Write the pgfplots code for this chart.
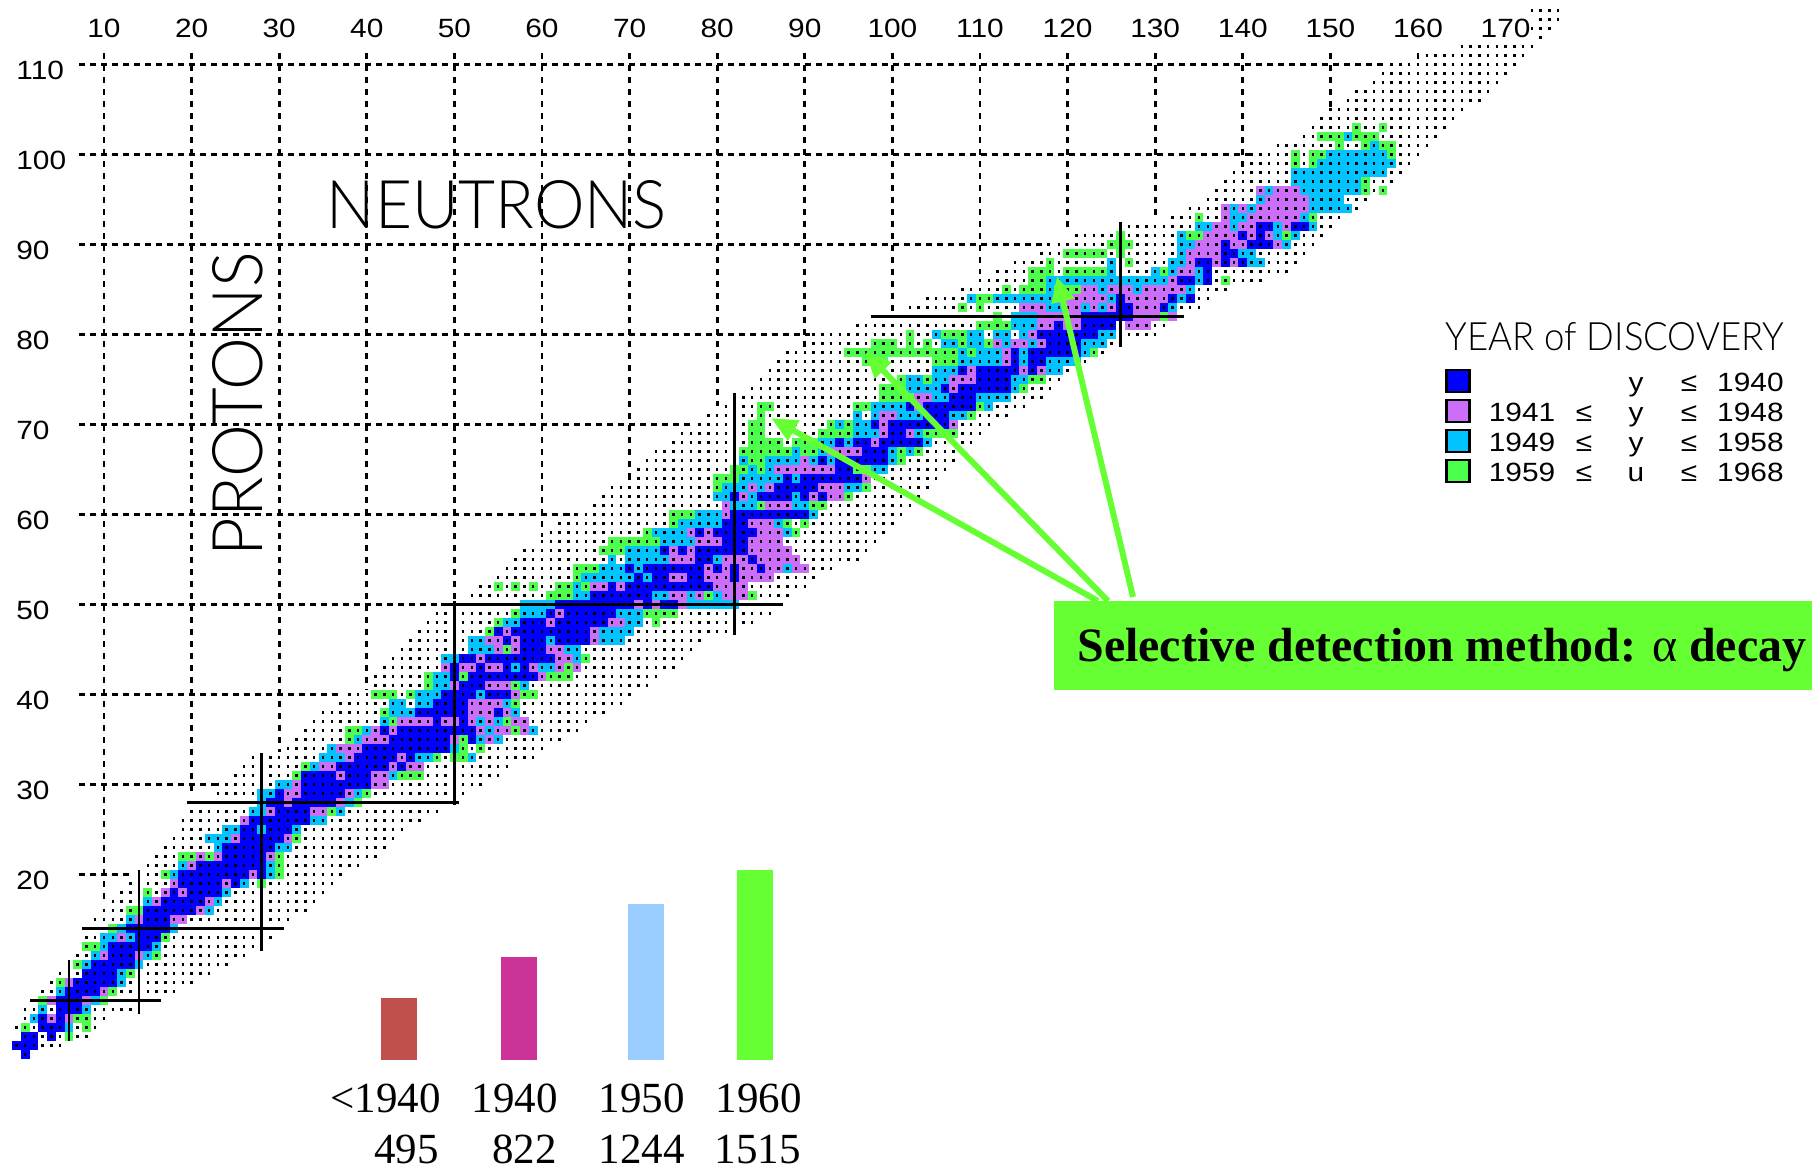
\documentclass[border=0pt]{standalone}
\usepackage{fontspec}
\usepackage{graphicx}
\usepackage{pgfplots}
\usepackage{pgfplotstable}
\pgfplotsset{compat=1.18}
\usetikzlibrary{arrows.meta}
\setmainfont{Liberation Serif}
\newfontfamily\lsans[FakeStretch=1.13]{Liberation Sans}
\newfontfamily\lthin{Lato Light}
\definecolor{cB}{HTML}{0000FF}
\definecolor{cP}{HTML}{CC6EFA}
\definecolor{cC}{HTML}{00C3FF}
\definecolor{cG}{HTML}{4DFF4D}
\definecolor{box}{HTML}{66FF33}
\definecolor{b1}{HTML}{C0504D}
\definecolor{b2}{HTML}{CC3399}
\definecolor{b3}{HTML}{99CCFF}
\pgfplotstableread{
z a b
0 1 1
1 0 2
2 1 2
2 4 4
3 3 5
4 3 3
4 5 5
5 5 7
6 5 7
7 6 9
8 7 11
9 8 11
10 9 13
11 11 13
12 11 15
13 14 16
14 13 17
15 15 17
16 15 20
17 17 21
18 18 18
18 20 23
19 19 23
19 25 25
20 19 26
20 28 28
21 21 28
22 24 28
23 24 29
24 26 30
25 26 27
25 29 31
26 27 33
27 30 33
28 29 30
28 32 36
29 30 30
29 33 37
30 33 40
31 33 36
31 38 40
32 37 42
32 44 44
33 39 43
33 45 45
34 40 49
35 43 49
35 52 52
36 42 42
36 44 52
37 48 48
37 51 51
38 46 51
38 55 55
39 48 51
40 49 52
40 54 56
41 51 53
42 50 50
42 52 59
43 50 50
43 53 53
43 56 56
43 58 58
44 51 52
44 54 61
45 58 60
46 56 56
46 58 60
46 62 65
47 55 55
47 57 65
48 58 60
48 62 67
49 61 61
49 63 68
50 62 70
50 72 72
50 74 75
51 66 72
52 68 68
52 70 79
53 71 71
53 73 74
53 77 78
53 82 82
54 70 70
54 72 78
54 80 80
54 82 82
54 85 85
55 78 79
55 84 84
56 74 74
56 76 76
56 78 83
57 81 83
58 78 78
58 80 84
59 81 83
60 82 90
62 82 82
62 85 88
62 90 90
62 92 92
63 87 91
64 88 88
64 90 96
65 94 95
66 92 92
66 94 99
67 97 99
68 94 94
68 96 97
68 99 103
69 100 101
70 98 98
70 100 106
71 104 106
72 102 102
72 104 109
73 107 109
74 106 106
74 108 113
75 110 113
76 108 108
76 110 114
76 116 116
77 114 114
77 116 117
78 114 114
78 116 121
79 118 121
80 117 123
81 119 119
81 122 125
82 122 127
83 126 127
83 131 131
84 126 126
84 132 132
84 134 134
86 133 134
86 136 136
87 136 136
88 135 136
88 138 138
88 140 140
89 138 139
90 138 138
90 141 143
91 140 140
91 142 142
92 142 143
92 146 147
}\tabB
\pgfplotstableread{
z a b
4 4 4
4 6 6
6 4 4
6 8 8
7 10 10
8 6 6
11 10 10
11 14 14
13 12 12
15 14 14
15 18 19
16 21 21
17 16 16
17 22 22
18 17 17
18 19 19
19 18 18
19 24 24
20 27 27
21 20 20
22 21 21
22 23 23
22 29 29
24 25 25
24 31 31
26 26 26
27 29 29
27 34 35
28 31 31
28 37 37
29 31 32
29 38 38
30 32 32
30 41 42
31 37 37
31 41 42
32 35 36
32 43 43
32 45 46
33 38 38
33 44 44
34 37 39
35 40 42
35 50 50
35 54 54
36 41 41
36 43 43
36 53 53
36 55 56
36 58 58
37 44 47
37 49 50
37 52 52
37 54 54
37 57 58
38 52 54
38 56 56
39 52 55
40 57 57
41 50 50
41 54 56
42 60 60
43 49 49
43 51 52
43 54 55
43 59 59
43 62 62
43 64 64
44 53 53
44 62 63
45 55 55
45 57 57
45 61 62
46 54 55
46 57 57
46 66 66
47 56 56
47 66 66
48 61 61
48 68 69
49 62 62
50 71 71
50 73 73
50 76 76
51 75 76
51 78 78
51 81 83
52 66 67
52 69 69
52 80 83
53 75 76
53 79 81
53 83 86
54 79 79
54 81 81
54 83 84
54 86 87
54 89 90
55 75 77
55 81 83
55 85 89
56 75 75
56 77 77
56 84 88
57 78 80
57 84 87
58 77 77
58 79 79
58 85 87
59 84 86
60 81 81
61 81 81
61 86 88
62 83 83
62 91 91
62 93 94
63 84 84
63 86 86
63 92 94
64 97 97
65 87 93
66 90 90
67 93 96
68 98 98
69 99 99
69 102 102
70 99 99
70 107 107
71 99 100
72 103 103
73 103 104
74 107 107
75 107 109
76 109 109
76 115 115
76 117 117
77 113 113
78 113 113
79 112 112
79 114 115
79 117 117
80 116 116
81 117 118
81 120 121
81 127 129
82 117 121
82 128 130
82 132 132
83 115 117
83 120 121
83 123 123
83 125 125
83 128 130
84 119 124
84 127 131
85 122 123
85 125 127
85 129 133
86 132 132
87 133 134
88 134 134
88 137 137
88 139 139
89 134 137
90 135 137
90 139 140
90 144 144
91 136 139
91 141 141
91 143 143
92 137 138
92 140 141
92 145 145
93 138 138
93 141 146
94 138 138
94 140 140
94 142 147
95 143 147
96 142 142
96 144 146
}\tabP
\pgfplotstableread{
z a b
3 6 6
4 2 2
5 3 3
5 8 8
6 9 9
7 5 5
8 12 12
9 12 12
10 8 8
10 14 14
11 9 9
11 15 15
12 10 10
12 16 16
13 10 11
13 13 13
14 12 12
14 18 18
15 13 13
16 22 22
17 15 15
17 23 23
18 24 24
19 26 26
20 18 18
20 29 29
21 19 19
21 29 29
23 23 23
23 30 31
24 22 24
25 24 25
25 28 28
25 32 32
26 34 35
27 27 28
27 37 37
28 28 28
28 38 38
29 28 29
29 39 39
30 30 31
31 43 43
32 34 34
33 35 37
33 46 47
33 52 52
34 36 36
34 50 50
35 39 39
35 53 53
35 55 55
36 40 40
36 54 54
36 59 59
37 42 42
37 53 53
37 55 55
38 43 45
38 57 57
39 43 44
39 46 47
39 56 56
40 46 48
40 53 53
41 48 49
41 58 58
42 48 49
43 57 57
43 60 61
44 49 50
44 64 64
45 52 54
45 63 64
46 52 53
46 61 61
46 67 69
47 67 70
48 56 57
48 70 71
49 58 60
49 69 71
50 58 61
50 77 82
51 64 65
51 73 74
51 77 77
51 80 80
52 64 64
53 65 70
53 72 72
54 67 69
54 71 71
54 88 88
55 68 68
55 70 74
55 80 80
56 70 73
57 74 77
58 73 76
58 88 88
59 76 80
59 87 87
60 78 80
60 91 91
61 82 84
61 89 90
62 80 81
62 84 84
62 89 89
63 81 83
63 85 85
63 95 96
64 83 87
64 89 89
65 84 84
65 86 86
65 98 99
66 83 83
66 86 89
66 91 91
66 93 93
66 100 100
67 89 89
67 92 92
67 100 100
67 102 102
68 92 93
68 95 95
68 104 104
69 96 98
69 103 103
70 94 94
70 96 97
71 96 96
71 98 98
71 101 103
71 107 108
72 98 101
72 111 111
73 105 106
73 110 113
74 102 105
74 114 114
75 102 103
75 105 106
75 114 115
76 105 107
76 118 119
77 108 112
77 115 115
77 118 121
78 108 108
78 110 112
78 115 115
78 122 122
79 106 107
79 109 110
79 113 113
79 116 116
79 122 124
80 105 105
80 109 110
80 112 113
80 115 115
80 124 125
81 114 116
82 114 116
83 118 119
83 122 122
83 124 124
83 132 132
84 109 109
84 112 118
84 125 125
84 133 133
85 118 118
85 124 124
85 128 128
85 134 134
86 118 131
86 135 135
87 125 125
87 130 130
87 132 132
87 135 135
88 125 125
88 132 133
88 141 142
89 133 133
89 140 141
90 133 134
90 145 145
91 133 133
91 144 144
91 146 146
92 135 136
92 139 139
92 144 144
92 148 148
93 139 140
93 147 147
94 139 139
94 141 141
94 148 152
95 142 142
95 148 151
96 143 143
96 147 153
97 146 153
98 146 156
99 149 157
100 150 156
101 155 155
102 152 152
}\tabC
\pgfplotstableread{
z a b
2 6 6
3 1 1
3 8 8
4 7 8
6 3 3
6 10 10
7 11 11
8 5 5
9 13 13
10 7 7
11 16 16
12 8 9
13 17 17
14 11 11
16 13 14
18 15 15
19 28 28
20 17 17
20 30 30
21 30 30
22 19 20
22 22 22
22 30 30
24 32 32
27 36 36
28 39 39
29 40 40
31 32 32
31 44 46
32 33 33
33 48 48
33 50 51
34 51 51
34 53 53
35 38 38
35 51 51
36 38 39
36 57 57
37 43 43
37 56 56
38 42 42
39 57 57
40 41 43
40 45 45
40 58 59
41 47 47
41 57 57
42 47 47
42 51 51
42 61 63
43 63 63
44 65 65
45 56 56
47 54 54
48 55 55
48 73 73
49 57 57
49 72 75
51 61 63
51 79 79
51 84 84
52 55 55
52 57 57
52 59 59
52 62 63
52 65 65
53 64 64
54 64 66
56 67 69
57 68 73
58 72 72
58 89 89
59 75 75
59 88 88
59 90 90
60 75 77
61 85 85
61 91 92
62 95 95
63 80 80
63 97 97
64 80 82
65 82 83
65 85 85
65 96 97
66 84 85
66 101 101
67 83 88
67 90 91
67 101 101
67 103 103
68 84 87
68 89 91
69 84 85
69 92 95
69 104 107
70 84 85
70 93 93
70 95 95
71 85 85
71 109 109
72 85 86
72 96 97
72 110 110
73 99 102
74 99 101
74 115 115
75 101 101
75 104 104
75 116 117
77 97 99
77 105 107
78 95 107
78 109 109
78 123 123
79 98 100
79 102 102
79 104 104
79 108 108
79 111 111
80 102 102
80 106 108
81 110 113
82 112 112
82 131 131
83 108 108
83 110 110
84 110 111
85 113 113
85 115 117
85 119 121
86 116 117
86 138 138
87 116 118
87 120 124
87 131 131
88 118 118
88 127 127
89 120 124
89 126 126
90 125 127
91 126 126
91 134 135
91 145 145
93 135 135
93 148 148
96 154 154
96 156 156
97 154 154
99 146 146
99 148 148
100 146 146
100 148 149
100 157 157
101 151 151
101 154 154
101 156 157
102 149 151
102 153 155
103 153 153
103 156 156
}\tabG
\pgfplotstableread{
z a b
0 1 1
1 0 5
2 1 8
3 0 9
4 1 10
5 1 13
7 3 18
8 4 20
9 5 22
10 7 24
11 7 26
12 8 27
13 8 29
15 9 31
16 10 33
17 11 34
18 12 35
19 13 36
20 15 37
21 15 39
22 16 41
23 17 42
24 18 43
25 19 44
26 19 46
27 20 48
29 23 51
30 23 53
31 25 55
32 26 56
33 27 59
34 31 60
35 32 62
36 33 64
37 34 65
38 35 67
39 37 69
40 38 70
41 41 72
42 41 73
43 42 75
44 43 76
45 44 77
46 45 78
47 46 81
48 47 84
49 48 86
51 52 88
52 53 90
53 55 91
54 56 93
55 57 96
56 58 97
57 60 98
58 61 99
59 62 100
60 63 101
61 66 102
62 67 103
63 68 104
64 70 105
65 71 106
66 72 107
67 73 108
68 75 109
69 76 110
70 78 111
71 79 113
72 81 115
73 83 117
74 84 118
75 85 119
76 86 120
77 87 122
78 88 124
79 91 125
80 91 130
81 96 131
83 102 135
84 104 136
85 108 138
86 110 142
87 112 145
88 114 146
89 117 147
90 119 148
91 121 149
92 127 150
93 132 151
94 134 153
95 136 154
96 137 156
97 138 157
98 139 158
99 140 159
100 141 160
101 144 161
102 147 162
103 148 163
104 149 164
105 150 165
106 152 167
107 153 168
108 155 169
109 156 170
110 157 171
111 160 172
112 165 173
113 174 174
114 173 175
115 174 176
116 173 176
}\tabD
\pgfplotstableread{
z a b
110 7.2 156
100 7.2 141
90 7.2 118
80 7.2 90.6
70 7.2 77
60 7.2 64
50 7.2 48.5
40 7.2 37.2
30 7.2 23
20 7.2 13.2
}\tabH
\pgfplotstableread{
n top bot
10 111.2 17
20 111.2 29
30 111.2 33.6
40 111.2 40.5
50 111.2 50
60 111.2 57.5
70 111.2 64
80 111.2 72
90 111.2 78.2
100 111.2 82.5
110 111.2 86.7
120 111.2 91.6
130 111.2 93.3
140 111.2 98.4
150 111.2 104.9
160 111.2 110.3
}\tabV
\pgfplotstableread{
z a b
6 1.55 16.5
14 7.5 30.5
28 19.5 50.5
50 48.5 87.5
82 97.5 133.3
}\tabMH
\pgfplotstableread{
n top bot
6 10.5 1.5
14 20.5 4.5
28 33.5 11.5
50 50.4 27.7
82 73.5 46.6
126 92.5 78.6
}\tabMV
\pgfplotsset{
 cell/.style={draw=none,no marks,forget plot,error bars/.cd,x dir=plus,x explicit,error mark=none,
   error bar style={line width=4.55pt,solid,draw=#1}},
 hline/.style 2 args={draw=none,no marks,forget plot,error bars/.cd,x dir=plus,x explicit,error mark=none,
   error bar style={line width=#1,draw=black,#2}},
 vline/.style 2 args={draw=none,no marks,forget plot,error bars/.cd,y dir=minus,y explicit,error mark=none,
   error bar style={line width=#1,draw=black,#2}},
}
\newcommand{\cells}[2]{\addplot[cell=#1] table[x expr=\thisrow{a}-0.5,y=z,x error expr=\thisrow{b}-\thisrow{a}+1]{#2};}
\begin{document}
\begin{tikzpicture}
\path[use as bounding box] (0,0) rectangle (906pt,583.5pt);
\begin{axis}[
 at={(0,0)},anchor=south west,scale only axis,width=906pt,height=583.5pt,
 xmin=-1.87215,xmax=204.9772,ymin=-12.5222,ymax=117.1444,
 clip=false,axis line style={draw=none},major tick length=0pt,
 xticklabel pos=top,
 xtick={10,20,...,170},ytick={20,30,...,110},
 /pgf/number format/assume math mode=true,
 xticklabel style={font=\lsans\fontsize{13.2}{14}\selectfont,anchor=center,inner sep=0pt,yshift=-14.25pt},
 yticklabel style={font=\lsans\fontsize{13.2}{14}\selectfont,anchor=west,inner sep=0pt,xshift=8pt,yshift=-3.2pt},
]
% grid
\addplot[hline={1.35pt}{dash pattern=on 3pt off 2.5pt}] table[x=a,y=z,x error expr=\thisrow{b}-\thisrow{a}]{\tabH};
\addplot[vline={1.35pt}{dash pattern=on 3pt off 3pt}] table[x=n,y=top,y error expr=\thisrow{top}-\thisrow{bot}]{\tabV};
% nuclides
\cells{cG}{\tabG}
\cells{cC}{\tabC}
\cells{cP}{\tabP}
\cells{cB}{\tabB}
% dots
\addplot[hline={1.25pt}{dash pattern=on 1.25pt off 3.13pt}] table[x expr=\thisrow{a}-0.1427,y=z,x error expr=\thisrow{b}-\thisrow{a}+0.2854]{\tabD};
% magic numbers
\addplot[hline={1.35pt}{solid}] table[x=a,y=z,x error expr=\thisrow{b}-\thisrow{a}]{\tabMH};
\addplot[vline={1.35pt}{solid}] table[x=n,y=top,y error expr=\thisrow{top}-\thisrow{bot}]{\tabMV};
\end{axis}
% bars
\begin{axis}[
 at={(0,0)},anchor=south west,scale only axis,width=906pt,height=583.5pt,
 xmin=0,xmax=1812,ymin=-852.6,ymax=8446,hide axis,clip=false,
]
\addplot[ybar,bar width=18pt,bar shift=0pt,fill=b1,draw=none] coordinates {(399,495)};
\addplot[ybar,bar width=18pt,bar shift=0pt,fill=b2,draw=none] coordinates {(519,822)};
\addplot[ybar,bar width=18pt,bar shift=0pt,fill=b3,draw=none] coordinates {(646,1244)};
\addplot[ybar,bar width=18pt,bar shift=0pt,fill=box,draw=none] coordinates {(755,1515)};
\end{axis}
\begin{scope}[x=0.5pt,y=-0.5pt,yshift=583.5pt]
\fill[box] (1054,601) rectangle (1812,690);
\draw[box,line width=3pt,-{Triangle[length=13pt,width=11pt]}] (1098,601) -- (771,418);
\draw[box,line width=3pt,-{Triangle[length=13pt,width=11pt]}] (1108,601) -- (865,352);
\draw[box,line width=3pt,-{Triangle[length=13pt,width=11pt]}] (1133,597) -- (1057,276);
\node[anchor=base west,inner sep=0pt] at (1077,662) {\resizebox{364.5pt}{!}{\fontsize{25}{28}\selectfont\bfseries Selective detection method: \textnormal{α} decay}};
% big labels
\node[inner sep=0pt] at (497,204.5) {\resizebox{170pt}{24pt}{\lthin NEUTRONS}};
\node[inner sep=0pt,rotate=90] at (238,404) {\resizebox{152pt}{25pt}{\lthin PROTONS}};
\node[inner sep=0pt,anchor=north west] at (1445,322) {\resizebox{169.5pt}{14pt}{\lthin YEAR of DISCOVERY}};
% legend
\filldraw[draw=black,line width=1.25pt,fill=cB] (1446.5,370) rectangle (1469.5,392);
\filldraw[draw=black,line width=1.25pt,fill=cP] (1446.5,400) rectangle (1469.5,422);
\filldraw[draw=black,line width=1.25pt,fill=cC] (1446.5,430) rectangle (1469.5,452);
\filldraw[draw=black,line width=1.25pt,fill=cG] (1446.5,460) rectangle (1469.5,482);
\foreach \yy/\yA/\yB/\yv in {392/{}/{}/y,422/1941/{≤}/y,452/1949/{≤}/y,482/1959/{≤}/u}{
 \node[anchor=base,inner sep=0pt,font=\lsans\fontsize{13.2}{14}\selectfont] at (1522,\yy) {\yA};
 \node[anchor=base,inner sep=0pt,font=\lsans\fontsize{13.2}{14}\selectfont] at (1584,\yy) {\yB};
 \node[anchor=base,inner sep=0pt,font=\lsans\fontsize{13.2}{14}\selectfont] at (1636,\yy) {\yv};
 \node[anchor=base,inner sep=0pt,font=\lsans\fontsize{13.2}{14}\selectfont] at (1689,\yy) {≤};
}
\foreach \yy/\yC in {392/1940,422/1948,452/1958,482/1968}{
 \node[anchor=base east,inner sep=0pt,font=\lsans\fontsize{13.2}{14}\selectfont] at (1784,\yy) {\yC};
}
% bar labels
\foreach \xx/\yA in {441/<1940,558/1940,685/1950,802/1960}{
 \node[anchor=base east,inner sep=0pt,font=\fontsize{21.5}{24}\selectfont] at (\xx,1113) {\yA};
}
\foreach \xx/\yA in {439/495,557/822,685/1244,801/1515}{
 \node[anchor=base east,inner sep=0pt,font=\fontsize{21.5}{24}\selectfont] at (\xx,1164) {\yA};
}
\end{scope}
\end{tikzpicture}
\end{document}
